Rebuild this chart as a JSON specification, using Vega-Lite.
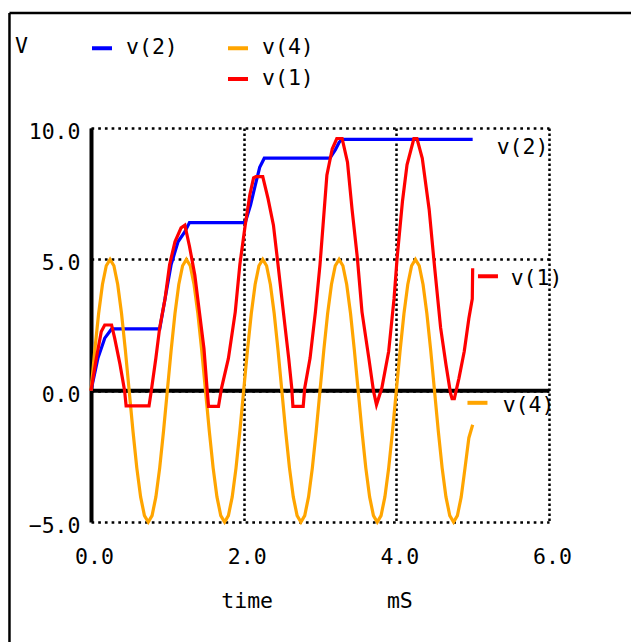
{
  "$schema": "https://vega.github.io/schema/vega-lite/v6.json",
  "autosize": "none",
  "padding": {"left": 91, "top": 128, "right": 82, "bottom": 120},
  "width": 458,
  "height": 394,
  "background": "white",
  "config": {
    "view": {"stroke": null},
    "font": "DejaVu Sans Mono",
    "axis": {"zindex": 0}
  },
  "datasets": {
    "series": [
      {"t":0,"s":"v(2)","v":0},{"t":0.09,"s":"v(2)","v":1.23},{"t":0.18,"s":"v(2)","v":2.0},{"t":0.27,"s":"v(2)","v":2.35},{"t":0.9,"s":"v(2)","v":2.35},{"t":0.97,"s":"v(2)","v":3.5},{"t":1.05,"s":"v(2)","v":4.8},{"t":1.14,"s":"v(2)","v":5.67},{"t":1.23,"s":"v(2)","v":6.05},{"t":1.29,"s":"v(2)","v":6.4},{"t":2.02,"s":"v(2)","v":6.4},{"t":2.09,"s":"v(2)","v":7.07},{"t":2.15,"s":"v(2)","v":7.8},{"t":2.21,"s":"v(2)","v":8.5},{"t":2.27,"s":"v(2)","v":8.85},{"t":3.13,"s":"v(2)","v":8.85},{"t":3.2,"s":"v(2)","v":9.16},{"t":3.25,"s":"v(2)","v":9.45},{"t":3.29,"s":"v(2)","v":9.57},{"t":5.0,"s":"v(2)","v":9.57},

      {"t":0,"s":"v(4)","v":0},{"t":0.05,"s":"v(4)","v":1.545},{"t":0.1,"s":"v(4)","v":2.939},{"t":0.15,"s":"v(4)","v":4.045},{"t":0.2,"s":"v(4)","v":4.755},{"t":0.25,"s":"v(4)","v":5},{"t":0.3,"s":"v(4)","v":4.755},{"t":0.35,"s":"v(4)","v":4.045},{"t":0.4,"s":"v(4)","v":2.939},{"t":0.45,"s":"v(4)","v":1.545},
      {"t":0.5,"s":"v(4)","v":0},{"t":0.55,"s":"v(4)","v":-1.545},{"t":0.6,"s":"v(4)","v":-2.939},{"t":0.65,"s":"v(4)","v":-4.045},{"t":0.7,"s":"v(4)","v":-4.755},{"t":0.75,"s":"v(4)","v":-5},{"t":0.8,"s":"v(4)","v":-4.755},{"t":0.85,"s":"v(4)","v":-4.045},{"t":0.9,"s":"v(4)","v":-2.939},{"t":0.95,"s":"v(4)","v":-1.545},
      {"t":1.0,"s":"v(4)","v":0},{"t":1.05,"s":"v(4)","v":1.545},{"t":1.1,"s":"v(4)","v":2.939},{"t":1.15,"s":"v(4)","v":4.045},{"t":1.2,"s":"v(4)","v":4.755},{"t":1.25,"s":"v(4)","v":5},{"t":1.3,"s":"v(4)","v":4.755},{"t":1.35,"s":"v(4)","v":4.045},{"t":1.4,"s":"v(4)","v":2.939},{"t":1.45,"s":"v(4)","v":1.545},
      {"t":1.5,"s":"v(4)","v":0},{"t":1.55,"s":"v(4)","v":-1.545},{"t":1.6,"s":"v(4)","v":-2.939},{"t":1.65,"s":"v(4)","v":-4.045},{"t":1.7,"s":"v(4)","v":-4.755},{"t":1.75,"s":"v(4)","v":-5},{"t":1.8,"s":"v(4)","v":-4.755},{"t":1.85,"s":"v(4)","v":-4.045},{"t":1.9,"s":"v(4)","v":-2.939},{"t":1.95,"s":"v(4)","v":-1.545},
      {"t":2.0,"s":"v(4)","v":0},{"t":2.05,"s":"v(4)","v":1.545},{"t":2.1,"s":"v(4)","v":2.939},{"t":2.15,"s":"v(4)","v":4.045},{"t":2.2,"s":"v(4)","v":4.755},{"t":2.25,"s":"v(4)","v":5},{"t":2.3,"s":"v(4)","v":4.755},{"t":2.35,"s":"v(4)","v":4.045},{"t":2.4,"s":"v(4)","v":2.939},{"t":2.45,"s":"v(4)","v":1.545},
      {"t":2.5,"s":"v(4)","v":0},{"t":2.55,"s":"v(4)","v":-1.545},{"t":2.6,"s":"v(4)","v":-2.939},{"t":2.65,"s":"v(4)","v":-4.045},{"t":2.7,"s":"v(4)","v":-4.755},{"t":2.75,"s":"v(4)","v":-5},{"t":2.8,"s":"v(4)","v":-4.755},{"t":2.85,"s":"v(4)","v":-4.045},{"t":2.9,"s":"v(4)","v":-2.939},{"t":2.95,"s":"v(4)","v":-1.545},
      {"t":3.0,"s":"v(4)","v":0},{"t":3.05,"s":"v(4)","v":1.545},{"t":3.1,"s":"v(4)","v":2.939},{"t":3.15,"s":"v(4)","v":4.045},{"t":3.2,"s":"v(4)","v":4.755},{"t":3.25,"s":"v(4)","v":5},{"t":3.3,"s":"v(4)","v":4.755},{"t":3.35,"s":"v(4)","v":4.045},{"t":3.4,"s":"v(4)","v":2.939},{"t":3.45,"s":"v(4)","v":1.545},
      {"t":3.5,"s":"v(4)","v":0},{"t":3.55,"s":"v(4)","v":-1.545},{"t":3.6,"s":"v(4)","v":-2.939},{"t":3.65,"s":"v(4)","v":-4.045},{"t":3.7,"s":"v(4)","v":-4.755},{"t":3.75,"s":"v(4)","v":-5},{"t":3.8,"s":"v(4)","v":-4.755},{"t":3.85,"s":"v(4)","v":-4.045},{"t":3.9,"s":"v(4)","v":-2.939},{"t":3.95,"s":"v(4)","v":-1.545},
      {"t":4.0,"s":"v(4)","v":0},{"t":4.05,"s":"v(4)","v":1.545},{"t":4.1,"s":"v(4)","v":2.939},{"t":4.15,"s":"v(4)","v":4.045},{"t":4.2,"s":"v(4)","v":4.755},{"t":4.25,"s":"v(4)","v":5},{"t":4.3,"s":"v(4)","v":4.755},{"t":4.35,"s":"v(4)","v":4.045},{"t":4.4,"s":"v(4)","v":2.939},{"t":4.45,"s":"v(4)","v":1.545},
      {"t":4.5,"s":"v(4)","v":0},{"t":4.55,"s":"v(4)","v":-1.545},{"t":4.6,"s":"v(4)","v":-2.939},{"t":4.65,"s":"v(4)","v":-4.045},{"t":4.7,"s":"v(4)","v":-4.755},{"t":4.75,"s":"v(4)","v":-5},{"t":4.8,"s":"v(4)","v":-4.755},{"t":4.85,"s":"v(4)","v":-4.045},{"t":4.9,"s":"v(4)","v":-2.939},{"t":4.95,"s":"v(4)","v":-1.8},{"t":5.0,"s":"v(4)","v":-1.3},

      {"t":0,"s":"v(1)","v":0},{"t":0.07,"s":"v(1)","v":1.23},{"t":0.135,"s":"v(1)","v":2.25},{"t":0.18,"s":"v(1)","v":2.5},{"t":0.27,"s":"v(1)","v":2.5},{"t":0.31,"s":"v(1)","v":2.0},{"t":0.38,"s":"v(1)","v":1.0},{"t":0.44,"s":"v(1)","v":0.0},{"t":0.46,"s":"v(1)","v":-0.58},{"t":0.76,"s":"v(1)","v":-0.58},
      {"t":0.79,"s":"v(1)","v":0.0},{"t":0.85,"s":"v(1)","v":1.24},{"t":0.9,"s":"v(1)","v":2.4},{"t":0.97,"s":"v(1)","v":3.5},{"t":1.03,"s":"v(1)","v":4.8},{"t":1.1,"s":"v(1)","v":5.67},{"t":1.18,"s":"v(1)","v":6.2},{"t":1.23,"s":"v(1)","v":6.3},{"t":1.29,"s":"v(1)","v":5.5},{"t":1.36,"s":"v(1)","v":4.4},
      {"t":1.42,"s":"v(1)","v":3.0},{"t":1.48,"s":"v(1)","v":1.6},{"t":1.52,"s":"v(1)","v":0.1},{"t":1.54,"s":"v(1)","v":-0.6},{"t":1.67,"s":"v(1)","v":-0.6},{"t":1.71,"s":"v(1)","v":0.1},{"t":1.8,"s":"v(1)","v":1.23},{"t":1.89,"s":"v(1)","v":3.0},{"t":1.95,"s":"v(1)","v":4.8},{"t":2.02,"s":"v(1)","v":6.3},
      {"t":2.08,"s":"v(1)","v":7.45},{"t":2.13,"s":"v(1)","v":8.1},{"t":2.16,"s":"v(1)","v":8.15},{"t":2.25,"s":"v(1)","v":8.15},{"t":2.32,"s":"v(1)","v":7.3},{"t":2.39,"s":"v(1)","v":6.3},{"t":2.45,"s":"v(1)","v":4.8},{"t":2.52,"s":"v(1)","v":3.0},{"t":2.59,"s":"v(1)","v":1.23},{"t":2.63,"s":"v(1)","v":0.1},
      {"t":2.645,"s":"v(1)","v":-0.6},{"t":2.78,"s":"v(1)","v":-0.6},{"t":2.8,"s":"v(1)","v":0.1},{"t":2.87,"s":"v(1)","v":1.24},{"t":2.94,"s":"v(1)","v":3.0},{"t":3.0,"s":"v(1)","v":4.8},{"t":3.04,"s":"v(1)","v":6.3},{"t":3.09,"s":"v(1)","v":8.2},{"t":3.16,"s":"v(1)","v":9.2},{"t":3.22,"s":"v(1)","v":9.6},
      {"t":3.29,"s":"v(1)","v":9.6},{"t":3.36,"s":"v(1)","v":8.7},{"t":3.42,"s":"v(1)","v":6.9},{"t":3.49,"s":"v(1)","v":5.04},{"t":3.55,"s":"v(1)","v":3.0},{"t":3.64,"s":"v(1)","v":1.23},{"t":3.7,"s":"v(1)","v":0.0},{"t":3.74,"s":"v(1)","v":-0.54},{"t":3.81,"s":"v(1)","v":0.1},{"t":3.9,"s":"v(1)","v":1.5},
      {"t":3.97,"s":"v(1)","v":3.5},{"t":4.01,"s":"v(1)","v":5.04},{"t":4.08,"s":"v(1)","v":7.2},{"t":4.14,"s":"v(1)","v":8.6},{"t":4.23,"s":"v(1)","v":9.6},{"t":4.27,"s":"v(1)","v":9.6},{"t":4.34,"s":"v(1)","v":8.85},{"t":4.43,"s":"v(1)","v":6.9},{"t":4.49,"s":"v(1)","v":5.04},{"t":4.58,"s":"v(1)","v":2.4},
      {"t":4.65,"s":"v(1)","v":1.0},{"t":4.71,"s":"v(1)","v":-0.1},{"t":4.73,"s":"v(1)","v":-0.3},{"t":4.76,"s":"v(1)","v":-0.3},{"t":4.82,"s":"v(1)","v":0.47},{"t":4.89,"s":"v(1)","v":1.5},{"t":4.95,"s":"v(1)","v":2.75},{"t":4.995,"s":"v(1)","v":3.5},{"t":5.0,"s":"v(1)","v":4.66}
    ]
  },
  "layer": [
    {
      "data": {"values": [{}]},
      "mark": {"type": "rule", "color": "black", "strokeWidth": 4},
      "encoding": {"y": {"datum": 0, "type": "quantitative", "scale": {"domain": [-5, 10], "nice": false, "zero": false}}}
    },
    {
      "data": {"values": [{}]},
      "mark": {"type": "rule", "color": "black", "strokeWidth": 2.5},
      "encoding": {
        "x": {"datum": -1.068, "type": "quantitative"},
        "y": {"datum": 14.38, "type": "quantitative"},
        "y2": {"datum": -9.7}
      }
    },
    {
      "data": {"values": [{}]},
      "mark": {"type": "rule", "color": "black", "strokeWidth": 2.5},
      "encoding": {
        "x": {"datum": -1.068, "type": "quantitative"},
        "x2": {"datum": 7.1},
        "y": {"datum": 14.38, "type": "quantitative"}
      }
    },
    {
      "data": {"name": "series"},
      "mark": {"type": "line", "strokeWidth": 3.2, "strokeJoin": "miter"},
      "encoding": {
        "x": {
          "field": "t", "type": "quantitative",
          "scale": {"domain": [0, 6], "nice": false, "zero": false},
          "axis": {
            "values": [0, 2, 4, 6],
            "title": null,
            "grid": true, "gridColor": "black", "gridDash": [2.5, 2.5], "gridWidth": 2.5, "gridOpacity": 1,
            "domain": false, "ticks": false, "tickSize": 0,
            "labelFont": "DejaVu Sans Mono", "labelFontSize": 21.5, "labelColor": "black",
            "labelPadding": 24, "labelOffset": 3, "labelFlush": false, "labelOverlap": false,
            "labelLineHeight": 44,
            "labelExpr": "datum.value == 2 ? ['2.0', 'time'] : datum.value == 4 ? ['4.0', 'mS\u00a0'] : format(datum.value, '.1f')"
          }
        },
        "y": {
          "field": "v", "type": "quantitative",
          "scale": {"domain": [-5, 10], "nice": false, "zero": false},
          "axis": {
            "values": [-5, 0, 5, 10],
            "format": ".1f",
            "title": null,
            "grid": true, "gridColor": "black", "gridDash": [2.7, 4], "gridWidth": 2.5, "gridOpacity": 1,
            "domain": true, "domainColor": "black", "domainWidth": 4,
            "ticks": false, "tickSize": 0,
            "labelFont": "DejaVu Sans Mono", "labelFontSize": 21.5, "labelColor": "black",
            "labelPadding": 11, "labelOffset": 4.5, "labelFlush": false, "labelOverlap": false
          }
        },
        "color": {
          "field": "s", "type": "nominal",
          "scale": {"domain": ["v(2)", "_", "v(4)", "v(1)"], "range": ["#0000ff", "#ffffff", "#ffa500", "#ff0000"]},
          "legend": {
            "orient": "none", "legendX": -76, "legendY": -92,
            "columns": 2, "padding": 0,
            "title": "V", "titleOrient": "left", "titleAnchor": "start", "titleBaseline": "top",
            "titleFont": "DejaVu Sans Mono", "titleFontSize": 21.5, "titleFontWeight": "normal", "titleColor": "black", "titlePadding": 62,
            "symbolType": "stroke", "symbolSize": 400, "symbolStrokeWidth": 4,
            "labelFont": "DejaVu Sans Mono", "labelFontSize": 21.5, "labelColor": "black", "labelOffset": 12,
            "columnPadding": 42, "rowPadding": 8,
            "labelExpr": "datum.label == '_' ? '' : datum.label"
          }
        }
      }
    },
    {
      "data": {"name": "series"},
      "transform": [{"filter": "datum.s == 'v(2)' && datum.t == 5"}],
      "mark": {"type": "text", "align": "left", "baseline": "top", "dx": 24, "dy": -2, "font": "DejaVu Sans Mono", "fontSize": 21.5, "color": "black"},
      "encoding": {"x": {"field": "t", "type": "quantitative"}, "y": {"field": "v", "type": "quantitative"}, "text": {"field": "s"}}
    },
    {
      "data": {"name": "series"},
      "transform": [{"filter": "datum.s == 'v(1)' && datum.t == 5"}],
      "mark": {"type": "text", "align": "left", "baseline": "top", "dx": 38, "dy": 0, "font": "DejaVu Sans Mono", "fontSize": 21.5, "color": "black"},
      "encoding": {"x": {"field": "t", "type": "quantitative"}, "y": {"field": "v", "type": "quantitative"}, "text": {"field": "s"}}
    },
    {
      "data": {"name": "series"},
      "transform": [{"filter": "datum.s == 'v(1)' && datum.t == 5"}],
      "mark": {"type": "point", "shape": "stroke", "size": 400, "strokeWidth": 4, "filled": false, "color": "#ff0000", "opacity": 1, "xOffset": 15.3, "yOffset": 8},
      "encoding": {"x": {"field": "t", "type": "quantitative"}, "y": {"field": "v", "type": "quantitative"}}
    },
    {
      "data": {"name": "series"},
      "transform": [{"filter": "datum.s == 'v(4)' && datum.t == 5"}],
      "mark": {"type": "text", "align": "left", "baseline": "top", "dx": 30, "dy": -30, "font": "DejaVu Sans Mono", "fontSize": 21.5, "color": "black"},
      "encoding": {"x": {"field": "t", "type": "quantitative"}, "y": {"field": "v", "type": "quantitative"}, "text": {"field": "s"}}
    },
    {
      "data": {"name": "series"},
      "transform": [{"filter": "datum.s == 'v(4)' && datum.t == 5"}],
      "mark": {"type": "point", "shape": "stroke", "size": 400, "strokeWidth": 4, "filled": false, "color": "#ffa500", "opacity": 1, "xOffset": 4.8, "yOffset": -22},
      "encoding": {"x": {"field": "t", "type": "quantitative"}, "y": {"field": "v", "type": "quantitative"}}
    }
  ]
}
